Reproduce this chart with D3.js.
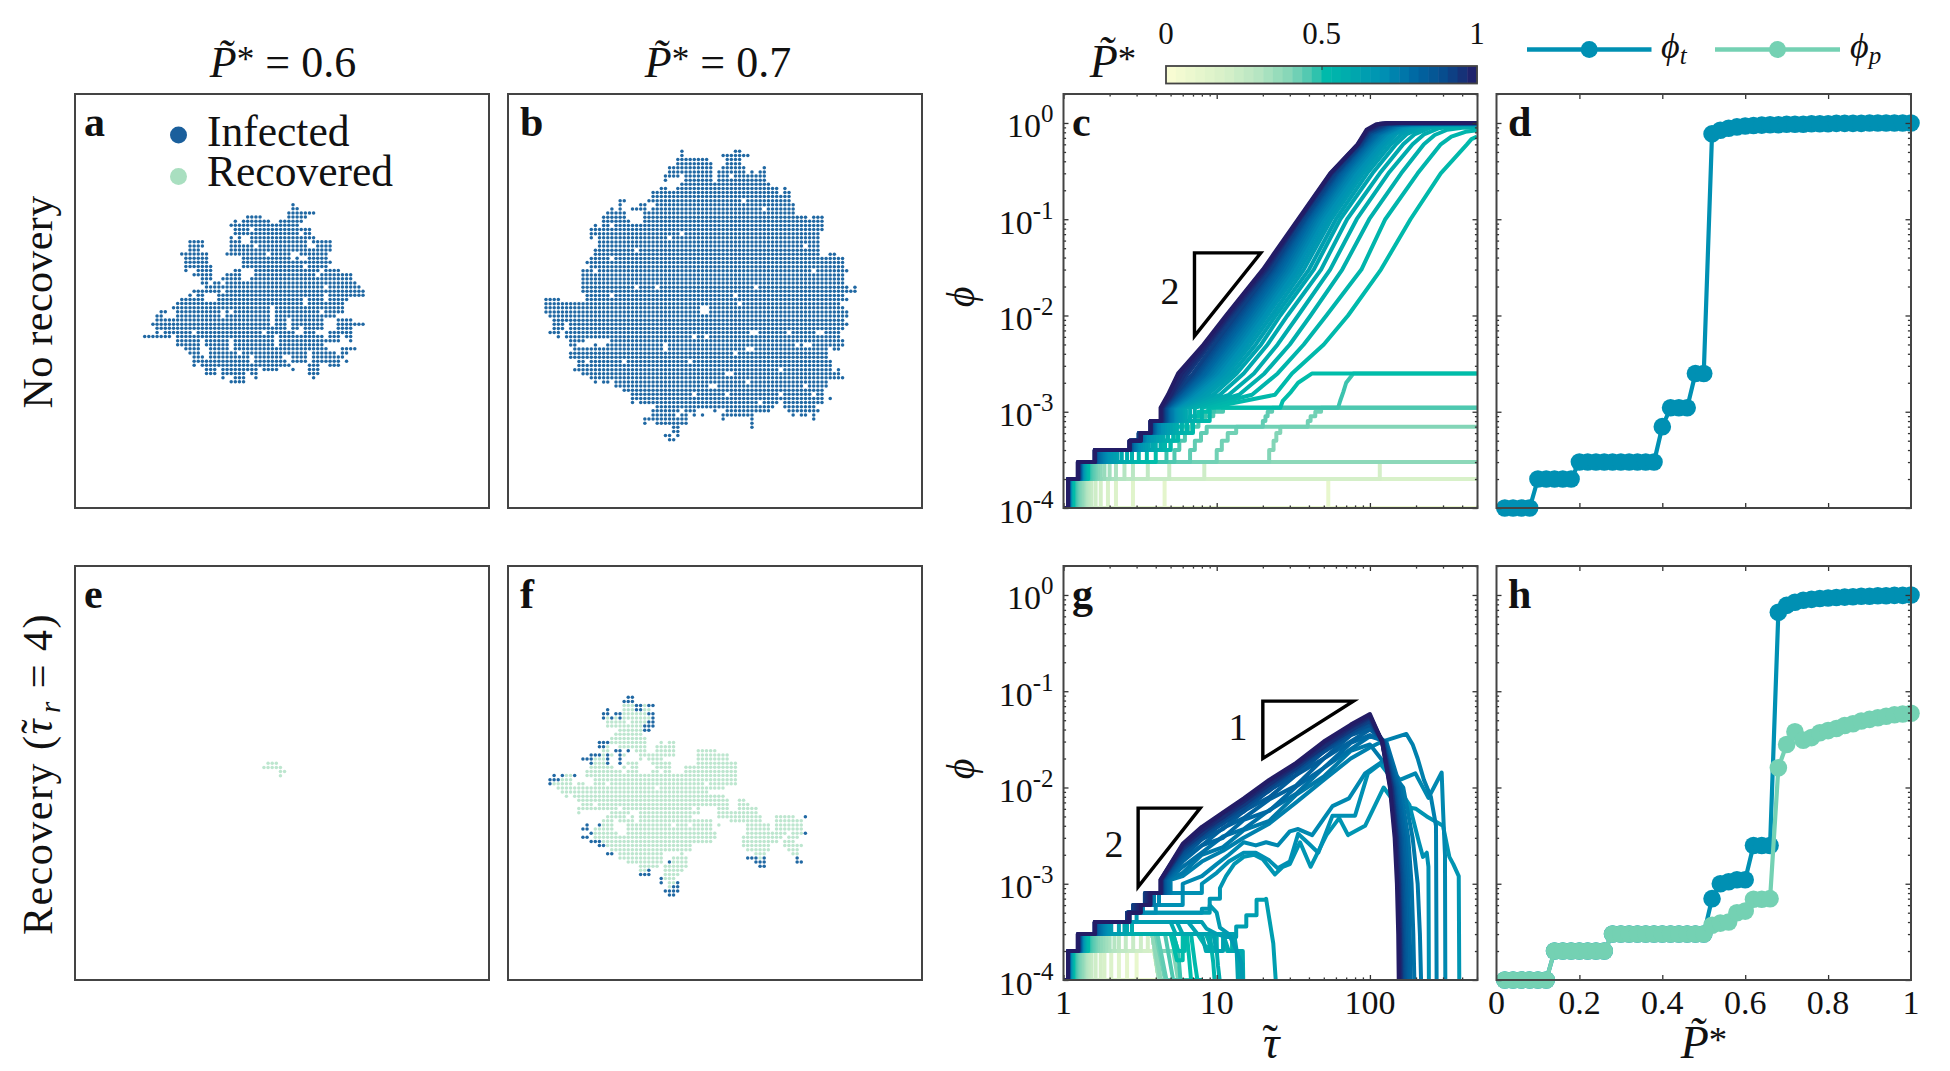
<!DOCTYPE html>
<html><head><meta charset="utf-8">
<script src="https://cdn.jsdelivr.net/npm/d3@7"></script>
<style>html,body{margin:0;padding:0;background:#fff}svg{display:block}
text{font-family:"Liberation Serif",serif;fill:#111}</style></head>
<body><svg id="c" width="1950" height="1071"></svg>
<script>
// ---------- colormap ----------
const cmapStops=[0,.1,.2,.3,.4,.48,.5,.6,.7,.8,.9,1];
const cmapColors=["#fbfdd4","#e8f7cd","#d4efc8","#b5e5c2","#83d5b7","#3cc3ae","#00bdaa","#00a8ae","#0090b3","#0069a3","#084a8c","#231c66"];
// ---------- lattice clusters: per row, flat list of [start,end] column runs ----------
const aRows=[[36,36],[36,37],[35,41],[25,28,35,39],[22,22,24,30,33,38],[21,37],[22,25,27,37,38,40],[22,23,24,25,26,37,39,40],[21,21,23,23,26,37,38,41],[11,14,21,23,26,39,41,43,44,45],[11,12,13,14,21,26,28,39,42,45],[11,13,21,27,28,39,40,44,45,45],[9,15,20,29,31,35,38,44],[10,15,24,35,37,37,40,44],[10,15,24,45],[10,16,24,38,40,44],[10,10,13,16,22,23,27,39,40,42,44,47],[12,13,14,16,20,23,27,41,43,50],[14,16,19,23,26,50],[14,15,17,18,20,24,25,51],[15,19,20,43,45,50,51,52],[12,14,15,18,20,43,44,50,51,53],[11,11,13,14,18,43,45,50,51,53],[9,14,18,38,40,43,45,49],[8,17,18,38,40,48],[7,30,32,48],[4,5,8,18,20,20,22,30,32,42,44,48],[3,4,8,18,20,30,32,43,44,46],[3,5,6,30,32,34,36,43,47,50],[2,5,6,30,32,34,36,43,47,53],[3,5,6,34,36,37,39,43,47,50],[3,3,5,11,13,28,30,36,39,41,45,50],[0,6,8,14,15,27,28,31,33,38,39,43,45,47,49,50],[8,13,15,20,22,31,33,44,45,47,50,50],[8,13,15,20,22,31,33,43],[10,13,16,20,22,26,27,43,44,44,48,51],[11,13,16,22,24,26,27,39,41,46,48,49],[12,14,16,25,27,33,36,39,41,48],[12,14,15,25,27,34,36,39,41,47,49,49],[12,12,14,18,19,27,28,35,40,42,45,47],[15,17,19,27,29,32,36,36,40,42],[15,17,19,24,26,27,40,42],[19,19,22,23,24,24,27,27,41,41],[21,24]];
const bRows=[[33,33,46,47],[33,33,43,49],[32,35,36,39,44,47],[32,40,44,47],[30,30,31,40,43,48,53,53],[30,40,42,48,50,50,52,53],[29,30,31,32,34,40,42,44,46,53],[29,29,34,40,42,53],[33,54],[28,29,32,56,58,58],[26,32,33,56,58,59],[26,59],[18,19,25,59],[18,18,23,24,27,60],[16,16,18,18,21,24,26,60],[15,19,24,60],[14,19,24,63,65,67],[14,20,24,67],[12,12,14,15,17,67],[11,60,61,67],[11,66],[11,11,13,66],[13,66],[13,66],[12,66],[12,66,69,70],[11,72],[10,72],[11,72],[9,72,73,73],[9,72],[9,72],[9,72],[9,72,73,73,75,75],[9,73,74,75],[10,72],[0,3,10,73],[0,71],[0,72],[0,73],[1,1,2,72,73,73],[2,72],[2,4,6,72,73,73],[2,4,6,72],[1,3,5,5,6,71],[3,3,5,5,6,71],[6,9,16,72],[6,7,12,12,15,72],[7,68,70,71],[6,68],[6,68],[8,9,11,69],[8,69],[7,7,8,69,71,71],[9,71],[11,72],[12,12,14,15,17,67,68,68],[17,67,68,68],[19,67],[21,67],[21,25,26,67,69,69],[21,21,23,25,26,67],[27,55,58,65],[26,32,34,36,41,41,44,54,59,66],[26,31,33,33,34,34,36,36,38,38,43,50,60,60,62,63,65,65],[24,25,26,34,43,43,50,50,65,65],[24,24,27,34,50,50],[31,32,50,50],[31,32],[29,30,32,32],[30,31]];
const bHoles=[[48,12],[53,14],[30,21],[33,20],[22,24],[63,23],[16,26],[12,29],[65,29],[22,33],[27,33],[51,33],[46,35],[16,35],[47,37],[38,38],[39,38],[38,39],[39,39],[5,43],[50,44],[51,44],[59,44],[66,44],[67,44],[36,45],[39,45],[29,47],[29,48],[61,47],[63,47],[64,47],[49,48],[50,48],[46,49],[10,51],[19,51],[35,51],[57,53],[44,54],[45,54],[49,56],[40,57],[41,57],[63,57],[57,59],[36,59],[44,59],[65,59],[52,61],[57,61]];
const eRows=[[1,3],[0,4],[4,5],[4,4]];
const fRecovered=[[],[],[18,20,23,23],[18,20,23,24],[18,23],[14,14,16,16,18,24],[14,18,20,23],[14,22],[17,22],[16,22],[15,23],[15,23,27,27,29,30],[14,14,17,23,26,30],[13,14,21,23,26,30,36,40],[13,13,15,15,18,18,22,23,24,30,36,43],[11,13,22,22,24,27,36,43],[11,13,19,21,25,29,36,45],[10,15,18,18,20,21,26,29,33,45],[9,16,17,17,19,21,25,26,28,29,33,45],[4,5,9,45],[3,5,11,38,39,45],[1,5,7,8,11,13,15,37,39,45],[2,5,6,25,27,38,39,42],[3,5,6,38],[4,4,6,42],[7,43,46,47],[8,10,12,43,46,48],[7,16,18,34,36,36,41,43,46,50],[7,7,15,19,22,36,41,50],[14,18,20,20,22,34,41,51,55,59],[13,15,17,20,22,34,35,39,44,51,55,61],[13,15,19,29,31,33,35,39,41,41,48,53,55,61],[11,15,19,34,35,39,48,53,55,61],[11,16,19,34,35,40,48,57,59,61],[11,34,35,40,47,56,58,60],[13,34,35,39,47,55,57,59],[14,34,47,53,57,59,60,61],[15,34,48,53,58,60],[17,27,32,32,50,52,59,60],[17,27,30,33,51,51],[19,27,30,33],[22,26,28,33],[22,23,28,32],[28,31],[28,30],[29,30],[29,29],[],[]];
const fInfected=[[19,20],[18,20],[21,22,24,25],[14,14,21,22],[13,14,16,17,24,25],[13,13,15,15,17,17,25,25],[24,25],[23,25],[23,24],[],[],[12,14],[12,13],[16,17,19,19],[10,12,14,14,17,17],[8,10,14,14,17,17],[10,10,14,14,17,17],[],[],[1,1,3,3,6,6],[0,2],[0,0],[],[],[],[],[],[],[],[62,62],[],[9,9,12,12],[8,9],[10,10,62,62],[8,9],[10,12],[12,13],[],[14,15],[48,49,50,50,52,52,60,60],[29,29,50,52,60,61],[51,52],[24,24],[22,24],[27,27],[27,27,31,31],[30,31],[28,31],[29,30]];
const aOrigin=[16.92,26.87], bOrigin=[9.22,13.91], eOrigin=[45.87,47.89], fOrigin=[10.19,31.87];
// ---------- panel c ----------
const pValues=d3.range(1,51).map(i=>+(i*0.02).toFixed(2));
const cLow=[
[.02,[[1,1e-4],[500,1e-4]]],[.04,[[1,1e-4],[500,1e-4]]],[.06,[[1,1e-4],[500,1e-4]]],[.08,[[1,1e-4],[500,1e-4]]],
[.10,[[1,1e-4],[53.5,2e-4],[500,2e-4]]],[.12,[[1,1e-4],[4.57,2e-4],[500,2e-4]]],[.14,[[1,1e-4],[2.84,2e-4],[500,2e-4]]],[.16,[[1,1e-4],[2.2,2e-4],[500,2e-4]]],[.18,[[1,1e-4],[1.95,2e-4],[500,2e-4]]],
[.20,[[1,1e-4],[1.75,2e-4],[116,3e-4],[500,3e-4]]],[.22,[[1,1e-4],[1.62,2e-4],[8.3,3e-4],[500,3e-4]]],[.24,[[1,1e-4],[1.52,2e-4],[4.9,3e-4],[500,3e-4]]],[.26,[[1,1e-4],[1.47,2e-4],[3.55,3e-4],[500,3e-4]]],[.28,[[1,1e-4],[1.43,2e-4],[2.84,3e-4],[500,3e-4]]],[.30,[[1,1e-4],[1.4,2e-4],[2.5,3e-4],[500,3e-4]]],[.32,[[1,1e-4],[1.37,2e-4],[2.2,3e-4],[500,3e-4]]],[.34,[[1,1e-4],[1.35,2e-4],[2,3e-4],[500,3e-4]]],[.36,[[1,1e-4],[1.33,2e-4],[1.85,3e-4],[500,3e-4]]],[.38,[[1,1e-4],[1.31,2e-4],[1.75,3e-4],[500,3e-4]]],
[.40,[[1,1e-4],[1.28,2e-4],[1.68,3e-4],[22,4e-4],[23.5,5e-4],[24.5,6e-4],[26,7e-4],[500,7e-4]]],
[.42,[[1,1e-4],[1.25,2e-4],[1.62,3e-4],[10,4e-4],[10.8,5e-4],[11.8,6e-4],[13.4,7e-4],[39.3,8e-4],[41,9e-4],[44,1e-3],[48,1.1e-3],[500,1.1e-3]]],
[.44,[[1,1e-4],[1.22,2e-4],[1.57,3e-4],[6.7,4e-4],[7.2,5e-4],[7.9,6e-4],[8.6,7e-4],[20,8e-4],[20.8,9e-4],[21.5,1e-3],[23,1.1e-3],[500,1.1e-3]]],
[.46,[[1,1e-4],[1.2,2e-4],[1.52,3e-4],[5.3,4e-4],[5.7,5e-4],[6.2,6e-4],[6.7,7e-4],[7.6,8e-4],[8.4,9e-4],[9.5,1e-3],[11,1.1e-3],[500,1.1e-3]]],
[.48,[[1,1e-4],[1.18,2e-4],[1.48,3e-4],[4.7,4e-4],[5,5e-4],[5.5,6e-4],[6,7e-4],[6.9,8e-4],[7.6,9e-4],[8.4,1e-3],[9.6,1.1e-3],[62,1.1e-3],[64,1.3e-3],[67,1.6e-3],[70,2e-3],[78,2.5e-3],[500,2.5e-3]]],
[.50,[[1,1e-4],[1.16,2e-4],[1.45,3e-4],[4,4e-4],[4.4,5e-4],[4.8,6e-4],[5.2,7e-4],[6,8e-4],[6.7,9e-4],[7.6,1e-3],[8.8,1.1e-3],[26,1.1e-3],[27,1.3e-3],[30.5,1.6e-3],[34,2e-3],[42,2.5e-3],[500,2.5e-3]]]];
const cLevels=[2e-4,3e-4,4e-4,5e-4,6e-4,8e-4,1.1e-3,1.5e-3,2.5e-3,5e-3,1e-2,3e-2,.1,.3,.6];
const cUpper=[
[.52,[1.13,1.42,3.5,5,5.6,7,9,24,31,50,72,118,184,290,430],[[460,.68],[500,.72]]],
[.54,[1.12,1.40,3.1,4.6,5.2,6.4,8,17,25,37,52,88,126,205,290],[[340,.72],[420,.81],[500,.84]]],
[.56,[1.12,1.38,2.8,4.3,4.8,5.9,7.2,14,20.5,30,41,66,99,160,225],[[265,.75],[320,.85],[400,.89],[500,.9]]],
[.58,[1.11,1.37,2.6,4,4.5,5.5,6.7,12,17.5,25,34,55,82,132,190],[[225,.76],[280,.88],[350,.92],[500,.93]]],
[.60,[1.11,1.36,2.4,3.8,4.3,5.2,6.3,10.5,15,21.5,29,48,71,116,165],[[195,.76],[250,.9],[320,.94],[500,.95]]],
[.62,[1.1,1.35,2.25,3.6,4.1,5,6,9.5,13.5,19.5,26,43,64,104,148],[[175,.77],[225,.91],[290,.95],[500,.96]]],
[.64,[1.1,1.34,2.15,3.45,3.9,4.8,5.8,8.7,12.6,18,24.3,40,60,96,137],[[162,.77],[205,.92],[270,.95],[500,.96]]],
[.66,[1.1,1.33,2.05,3.3,3.75,4.6,5.6,8.1,11.8,16.7,22.8,37,56,90,128],[[150,.78],[190,.92],[250,.96],[500,.97]]],
[.68,[1.09,1.32,1.97,3.2,3.6,4.45,5.45,7.6,11.1,15.7,21.3,34.8,53,85,121],[[142,.78],[180,.93],[240,.96],[500,.97]]],
[.70,[1.09,1.31,1.9,3.1,3.5,4.3,5.3,7.2,10.5,14.8,20.2,32.8,50,81,115],[[135,.78],[170,.93],[230,.97],[500,.98]]],
[.72,[1.09,1.31,1.85,3,3.4,4.2,5.2,6.9,10,14,19.2,31,47.5,77,110],[[129,.78],[165,.94],[220,.97],[500,.98]]],
[.74,[1.09,1.3,1.8,2.95,3.35,4.1,5.1,6.6,9.5,13.4,18.3,29.7,45.5,74,106],[[124,.78],[160,.94],[210,.97],[500,.98]]],
[.76,[1.08,1.3,1.76,2.9,3.3,4,5,6.4,9.1,12.8,17.5,28.5,44,71,102],[[119,.78],[155,.95],[200,.98],[500,.99]]],
[.78,[1.08,1.29,1.72,2.85,3.25,3.95,4.9,6.2,8.7,12.2,16.8,27.4,42.5,69,99],[[115,.78],[150,.95],[195,.98],[500,.99]]],
[.80,[1.08,1.28,1.69,2.8,3.2,3.9,4.8,6,8.4,11.7,16.1,26.3,41,67,96],[[112,.78],[145,.95],[190,.98],[500,.99]]],
[.82,[1.08,1.28,1.66,2.78,3.15,3.85,4.75,5.85,8.1,11.3,15.5,25.4,40,65,94],[[109,.79],[142,.96],[185,.98],[500,.99]]],
[.84,[1.08,1.27,1.64,2.76,3.15,3.8,4.7,5.7,7.8,10.9,15,24.6,39,63.5,92],[[106,.79],[140,.96],[180,.99],[500,.99]]],
[.86,[1.08,1.27,1.63,2.74,3.1,3.8,4.65,5.6,7.6,10.5,14.5,23.9,38.2,62,90],[[104,.79],[136,.96],[175,.99],[500,1]]],
[.88,[1.07,1.26,1.62,2.72,3.1,3.75,4.6,5.5,7.4,10.2,14.1,23.3,37.6,61,89],[[102,.79],[133,.97],[170,.99],[500,1]]],
[.90,[1.07,1.26,1.61,2.71,3.1,3.75,4.55,5.4,7.2,9.9,13.7,22.8,37,60,88],[[100,.8],[130,.97],[165,.99],[500,1]]],
[.92,[1.07,1.25,1.6,2.7,3.1,3.7,4.5,5.3,7,9.6,13.3,22.4,36,59,87],[[99,.8],[128,.97],[160,1],[500,1]]],
[.94,[1.07,1.25,1.6,2.7,3.15,3.7,4.45,5.2,6.5,9,12.5,21.5,35,57,85],[[98,.82],[125,.98],[155,1],[500,1]]],
[.96,[1.07,1.25,1.6,2.7,3.15,3.7,4.4,5.1,6.2,8.7,12.1,21,34.8,56,84],[[97,.83],[120,.98],[150,1],[500,1]]],
[.98,[1.07,1.24,1.6,2.7,3.2,3.7,4.35,5,5.9,8.5,11.8,20.5,34.5,55.5,83.5],[[96,.84],[116,.98],[145,1],[500,1]]],
[1,[1.07,1.24,1.6,2.7,3.2,3.7,4.3,4.8,5.6,8.2,11.5,20,34,55,83],[[95,.85],[110,.97],[130,1],[500,1]]]];
// ---------- panel g ----------
const gLow=[
[.02,[[1,1e-4],[5,1e-4]]],[.04,[[1,1e-4],[5.2,1e-4]]],[.06,[[1,1e-4],[5.6,1e-4]]],[.08,[[1,1e-4],[6,1e-4]]],
[.10,[[1,1e-4],[3,2e-4],[3.9,2e-4],[4.2,1e-4],[7,1e-4]]],[.12,[[1,1e-4],[2.6,2e-4],[3.9,2e-4],[4.2,1e-4],[7.5,1e-4]]],[.14,[[1,1e-4],[2.3,2e-4],[3.9,2e-4],[4.2,1e-4],[7,1e-4]]],[.16,[[1,1e-4],[2.05,2e-4],[4,2e-4],[4.2,1e-4],[7,1e-4]]],[.18,[[1,1e-4],[1.85,2e-4],[4,2e-4],[4.2,1e-4],[7,1e-4]]],
[.20,[[1,1e-4],[1.75,2e-4],[3.55,3e-4],[3.8,3e-4],[4.2,1e-4],[7,1e-4]]],[.22,[[1,1e-4],[1.62,2e-4],[3.2,3e-4],[3.8,3e-4],[4.2,1e-4],[7,1e-4]]],[.24,[[1,1e-4],[1.52,2e-4],[2.85,3e-4],[3.8,3e-4],[4.2,1e-4],[7,1e-4]]],[.26,[[1,1e-4],[1.47,2e-4],[2.55,3e-4],[3.8,3e-4],[4.2,1e-4],[7,1e-4]]],[.28,[[1,1e-4],[1.43,2e-4],[2.3,3e-4],[3.8,3e-4],[4.2,1e-4],[7,1e-4]]],[.30,[[1,1e-4],[1.4,2e-4],[2.15,3e-4],[3.8,3e-4],[4.2,1e-4],[7,1e-4]]],[.32,[[1,1e-4],[1.37,2e-4],[2,3e-4],[3.8,3e-4],[4.2,1e-4],[7,1e-4]]],[.34,[[1,1e-4],[1.35,2e-4],[1.9,3e-4],[3.8,3e-4],[4.2,1e-4],[7,1e-4]]],[.36,[[1,1e-4],[1.33,2e-4],[1.82,3e-4],[3.9,3e-4],[4.3,1e-4],[7,1e-4]]],[.38,[[1,1e-4],[1.31,2e-4],[1.75,3e-4],[3.8,3e-4],[4.3,1e-4],[7,1e-4]]],
[.40,[[1,1e-4],[1.28,2e-4],[1.68,3e-4],[4,3e-4],[4.2,2e-4],[5.2,2e-4],[5.6,1e-4],[7,1e-4]]],[.42,[[1,1e-4],[1.25,2e-4],[1.62,3e-4],[4,3e-4],[4.6,1e-4],[6.5,1e-4]]],[.44,[[1,1e-4],[1.22,2e-4],[1.57,3e-4],[4.1,3e-4],[4.7,1e-4],[6.5,1e-4]]],[.46,[[1,1e-4],[1.2,2e-4],[1.52,3e-4],[4.6,3e-4],[5.2,1e-4],[7,1e-4]]],[.48,[[1,1e-4],[1.18,2e-4],[1.48,3e-4],[5.2,3e-4],[5.6,2e-4],[5.8,1e-4],[8,1e-4]]],[.50,[[1,1e-4],[1.16,2e-4],[1.45,3e-4],[5,3e-4],[5.5,1.6e-4],[6,3e-4],[6.4,3e-4],[6.8,1e-4],[8,1e-4]]],
[.52,[[1,1e-4],[1.14,2e-4],[1.43,3e-4],[5.2,3e-4],[5.6,2e-4],[6.2,3e-4],[6.8,3e-4],[7.2,1.5e-4],[8,5e-5]]],
[.54,[[1,1e-4],[1.13,2e-4],[1.4,3e-4],[7.5,3e-4],[8.5,2.2e-4],[9,3e-4],[9.5,1.5e-4],[10,5e-5]]],
[.56,[[1,1e-4],[1.13,2e-4],[1.38,3e-4],[8.5,3e-4],[9.4,2e-4],[10,3e-4],[11,3e-4],[11.7,2e-4],[12.6,3e-4],[13,2e-4],[14.2,2e-4],[14.4,5e-5]]],
[.58,[[1,1e-4],[1.12,2e-4],[1.37,3e-4],[2.8,4e-4],[5,4e-4],[5.4,3e-4],[8.8,3e-4],[9.4,2e-4],[9.8,3e-4],[10.2,1.4e-4],[11,5e-5]]],
[.60,[[1,1e-4],[1.12,2e-4],[1.36,3e-4],[2.6,4e-4],[5.5,4e-4],[6,3e-4],[8,3e-4],[8.5,2e-4],[9,3e-4],[11,3e-4],[12,2e-4],[14.8,2e-4],[15,5e-5]]],
[.62,[[1,1e-4],[1.11,2e-4],[1.35,3e-4],[2.5,4e-4],[6.5,4e-4],[7.5,3e-4],[9.5,3e-4],[10,2e-4],[11,3e-4],[13,3e-4],[13.5,2e-4],[14,5e-5]]],
[.64,[[1,1e-4],[1.11,2e-4],[1.34,3e-4],[2.3,4e-4],[8,4e-4],[8.6,3.4e-4],[10,3e-4],[11.5,2.8e-4],[13.4,3.6e-4],[15.6,4.7e-4],[18.2,6.8e-4],[21,7e-4],[23.4,2.4e-4],[25,5e-5]]],
[.66,[[1,1e-4],[1.1,2e-4],[1.33,3e-4],[2.05,4e-4],[3,5e-4],[8,5e-4],[9,6e-4],[10,5e-4],[10.5,3.5e-4],[12,3e-4],[13.5,2e-4],[14.5,1.5e-4],[15,5e-5]]],
[.68,[[1,1e-4],[1.1,2e-4],[1.32,3e-4],[1.97,4e-4],[2.7,5e-4],[6,5e-4],[8,5.5e-4],[9,7e-4],[10.5,9e-4],[11.5,1.2e-3],[13,1.6e-3],[15,1.9e-3],[17.5,2e-3],[20,1.8e-3],[24,1.25e-3],[27,1.5e-3],[30,1.6e-3],[35,2.7e-3],[41,1.5e-3],[52,3.2e-3],[63,4.8e-3],[72,3.2e-3],[93,4e-3],[123,1e-2],[150,6.5e-3],[200,6e-3],[235,5e-3],[300,4e-3],[330,1.9e-3],[350,1.6e-3],[380,1.2e-3],[384,5e-5]]],
[.70,[[1,1e-4],[1.09,2e-4],[1.31,3e-4],[1.9,4e-4],[2.66,5e-4],[4,6e-4],[6,8e-4],[8,1e-3],[10,1.3e-3],[12,1.7e-3],[15,2.1e-3],[18,2.1e-3],[22,1.75e-3],[25,1.45e-3],[30,1.7e-3],[34,3.3e-3],[40,2.6e-3],[46,2.1e-3],[57,5.1e-3],[80,5.1e-3],[97,1.4e-2],[117,1.76e-2],[143,1.17e-2],[181,6.6e-3],[209,2.7e-3],[222,1.9e-3],[235,2.1e-3],[241,1.5e-3],[243,5e-5]]],
[.72,[[1,1e-4],[1.09,2e-4],[1.31,3e-4],[1.85,4e-4],[2.64,5e-4],[3.3,6e-4],[4.2,8e-4],[6,1e-3],[8,1.2e-3],[10,1.6e-3],[12,2e-3],[15,2.7e-3],[18,2.5e-3],[21,2.7e-3],[25,2.5e-3],[30,3.5e-3],[34,3.7e-3],[42,3.2e-3],[57,6.4e-3],[73,7.7e-3],[93,1.4e-2],[123,1.9e-2],[157,1.2e-2],[198,1.4e-2],[241,7.8e-3],[294,1.43e-2],[300,6e-3],[309,2e-3],[311,5e-5]]],
[.74,[[1,1e-4],[1.09,2e-4],[1.3,3e-4],[1.8,4e-4],[2.63,5e-4],[3.1,6e-4],[3.9,8e-4],[5,1.1e-3],[6,1.2e-3],[8,1.7e-3],[11,2.2e-3],[15,3e-3],[22,4.2e-3],[33,7e-3],[50,1.2e-2],[75,2e-2],[100,2.6e-2],[120,3e-2],[145,3.3e-2],[173,3.6e-2],[190,2.8e-2],[205,2e-2],[225,1.2e-2],[250,8e-3],[270,4e-3],[273,5e-5]]]];
const gStairLevels=[2e-4,3e-4,4e-4,5e-4,6e-4,8e-4,1.1e-3];
const gMidTaus=[6,8,11,15,22,33,50,75,100];
const gFallPhi=[3e-2,1e-2,3e-3,1e-3,3e-4,5e-5];
const gUpper=[
[.76,[1.08,1.3,1.76,2.62,3,3.8,4.9],[1.3,2,2.4,3.6,4.5,8.4,13,24,28],[130,165,190,205,212,218]],
[.78,[1.08,1.29,1.72,2.61,3,3.7,4.8],[1.5,2.1,3.1,3.7,5.8,8.6,16,25,34],[128,158,178,187,192,197]],
[.80,[1.08,1.28,1.69,2.6,2.95,3.6,4.7],[1.7,2.5,3,4.6,5.7,10.2,16,29,35],[126,153,170,178,182,186]],
[.82,[1.08,1.28,1.66,2.6,2.95,3.6,4.6],[1.8,2.5,3.8,4.8,7.5,10.5,20,30,40],[125,150,165,172,176,179]],
[.84,[1.08,1.27,1.64,2.6,2.9,3.5,4.55],[1.9,2.9,3.7,5.7,7.9,13.5,20,35,41],[124,147,161,167,171,174]],
[.86,[1.08,1.27,1.63,2.6,2.9,3.5,4.5],[2,2.9,4.3,5.6,9.4,13.5,23.5,35,45],[123,145,158,164,167,170]],
[.88,[1.07,1.26,1.62,2.6,2.85,3.45,4.45],[2.1,3.2,4.2,6.3,9.2,15.4,23.5,38,45],[122,143,156,161,164,167]],
[.90,[1.07,1.26,1.61,2.6,2.85,3.4,4.4],[2.2,3.1,4.7,6.1,10.3,15,25.5,37,49],[122,142,154,159,162,164]],
[.92,[1.07,1.25,1.6,2.6,2.85,3.4,4.4],[2.3,3.4,4.6,6.7,10,16.4,25.5,40,49],[121,140,152,157,160,162]],
[.94,[1.07,1.25,1.6,2.6,2.9,3.45,4.35],[2.3,3.3,5,6.6,10.8,16,27,39,53],[121,139,150,155,158,160]],
[.96,[1.07,1.25,1.6,2.65,3,3.5,4.35],[2.4,3.6,4.9,7.2,10.8,17.2,26.5,42,54],[120,138,149,154,157,159]],
[.98,[1.07,1.24,1.6,2.65,3.1,3.6,4.3],[2.5,3.6,5.4,7.2,11.7,17.2,29,43,56],[120,136,147,152,155,157]],
[1,[1.07,1.24,1.6,2.7,3.2,3.7,4.3],[2.6,3.9,5.5,7.7,12,18,30,45,58],[120,135,145,150,153,155]]];
// ---------- panels d, h ----------
const dPhiT=[1e-4,1e-4,1e-4,1e-4,2e-4,2e-4,2e-4,2e-4,2e-4,3e-4,3e-4,3e-4,3e-4,3e-4,3e-4,3e-4,3e-4,3e-4,3e-4,7e-4,1.1e-3,1.1e-3,1.1e-3,2.5e-3,2.5e-3,.77,.84,.88,.91,.93,.94,.95,.96,.96,.97,.97,.97,.98,.98,.98,.99,.99,.99,.99,1,1,1,1,1,1];
const hPhiT=[1e-4,1e-4,1e-4,1e-4,1e-4,1e-4,2e-4,2e-4,2e-4,2e-4,2e-4,2e-4,2e-4,3e-4,3e-4,3e-4,3e-4,3e-4,3e-4,3e-4,3e-4,3e-4,3e-4,3e-4,3e-4,7e-4,1e-3,1.05e-3,1.1e-3,1.1e-3,2.5e-3,2.5e-3,2.5e-3,.66,.78,.84,.88,.9,.92,.93,.94,.95,.96,.97,.97,.98,.98,.99,.99,1];
const hPhiP=[1e-4,1e-4,1e-4,1e-4,1e-4,1e-4,2e-4,2e-4,2e-4,2e-4,2e-4,2e-4,2e-4,3e-4,3e-4,3e-4,3e-4,3e-4,3e-4,3e-4,3e-4,3e-4,3e-4,3e-4,3e-4,3.7e-4,3.9e-4,4e-4,5e-4,5.2e-4,6.9e-4,6.9e-4,7e-4,1.6e-2,2.8e-2,3.8e-2,3.1e-2,3.3e-2,3.7e-2,3.9e-2,4.1e-2,4.4e-2,4.6e-2,4.9e-2,5.1e-2,5.3e-2,5.5e-2,5.7e-2,5.8e-2,5.9e-2];
// ---------- ticks and annotations ----------
const logYMajor=[1e-4,1e-3,1e-2,1e-1,1];
const logYExp=["-4","-3","-2","-1","0"];
const logYMinor=[2,3,4,5,6,7,8,9,20,30,40,50,60,70,80,90,200,300,400,500,600,700,800,900,2000,3000,4000,5000,6000,7000,8000,9000,20000].map(v=>v*1e-4);
const tauMajor=[1,10,100];
const tauMinor=[2,3,4,5,6,7,8,9,20,30,40,50,60,70,80,90,200,300,400,500];
const pMajor=[.2,.4,.6,.8];
const pLabels=[0,.2,.4,.6,.8,1];
const triC2=[[7.16,.0447],[19.4,.0447],[7.16,6.1e-3]];
const triG2=[[3.07,6.1e-3],[7.8,6.1e-3],[3.07,9.3e-4]];
const triG1=[[20,.079],[78,.079],[20,.02]];

// ---------- layout ----------
const svg=d3.select("#c");
const colL=[75,508], colR=[1063.5,1496.5], rowT=[94,566], pw=414, phgt=414;
const cmap=d3.scaleLinear().domain(cmapStops).range(cmapColors).clamp(true);

function frame(g,w,h){g.append("rect").attr("width",w).attr("height",h).attr("fill","none").attr("stroke","#444").attr("stroke-width",2);}
function lattice(x0,y0){return {x:d3.scaleLinear().domain([0,100.5]).range([x0,x0+pw]),y:d3.scaleLinear().domain([0,100.5]).range([y0,y0+phgt])};}
function expandRows(rows,o,holes){const hs=new Set((holes||[]).map(h=>h[0]+","+h[1]));const out=[];
 rows.forEach((r,ri)=>{for(let k=0;k<r.length;k+=2)for(let c=r[k];c<=r[k+1];c++){if(!hs.has(c+","+ri))out.push([o[0]+c,o[1]+ri]);}});return out;}
function sites(x0,y0,pts,col,r){const s=lattice(x0,y0);
 svg.append("g").selectAll("circle").data(pts).join("circle").attr("cx",d=>s.x(d[0])).attr("cy",d=>s.y(d[1])).attr("r",r).attr("fill",col);}
const blue="#2068a3",green="#bde6cf";
sites(colL[0],rowT[0],expandRows(aRows,aOrigin),blue,1.75);
sites(colL[1],rowT[0],expandRows(bRows,bOrigin,bHoles),blue,1.75);
sites(colL[0],rowT[1],expandRows(eRows,eOrigin),green,1.75);
sites(colL[1],rowT[1],expandRows(fRecovered,fOrigin),green,1.75);
sites(colL[1],rowT[1],expandRows(fInfected,fOrigin),blue,1.75);
colL.forEach(x=>rowT.forEach(y=>frame(svg.append("g").attr("transform",`translate(${x},${y})`),pw,phgt)));

// axes helper
function inwardAxes(g,x,y,xMaj,xMin,yMaj,yMin){
 const w=pw,h=phgt;
 const add=(ax,tr)=>{const a=g.append("g").attr("transform",tr).call(ax);a.select(".domain").remove();a.selectAll("line").attr("stroke","#333").attr("stroke-width",1.3);a.selectAll("text").remove();};
 [[xMaj,5],[xMin,2.6]].forEach(([v,l])=>{ if(!v.length)return;
  add(d3.axisBottom(x).tickValues(v).tickSize(-l),`translate(0,${h})`);
  add(d3.axisTop(x).tickValues(v).tickSize(-l),"translate(0,0)");});
 [[yMaj,5],[yMin,2.6]].forEach(([v,l])=>{
  add(d3.axisLeft(y).tickValues(v).tickSize(-l),"translate(0,0)");
  add(d3.axisRight(y).tickValues(v).tickSize(-l),`translate(${w},0)`);});
}
const yLog=d3.scaleLog().domain([1e-4,2]).range([phgt,0]);
const xTau=d3.scaleLog().domain([1,500]).range([0,pw-.5]);
const xP=d3.scaleLinear().domain([0,1]).range([0,pw+.5]);

svg.append("defs").append("clipPath").attr("id","clipPlot").append("rect").attr("width",pw).attr("height",phgt);
const lineGen=d3.line().x(d=>xTau(d[0])).y(d=>yLog(d[1]));
function steps(pts){const out=[pts[0]];for(let i=1;i<pts.length;i++){const a=pts[i-1],b=pts[i];if(b[1]>a[1]&&b[1]<=1.1e-3)out.push([b[0],a[1]]);out.push(b);}return out;}
function curves(g,list){g.append("g").attr("clip-path","url(#clipPlot)").selectAll("path").data(list).join("path")
 .attr("d",d=>lineGen(steps(d[1]))).attr("fill","none").attr("stroke",d=>cmap(d[0])).attr("stroke-width",4).attr("stroke-linejoin","round");}
function tri(g,v){g.append("path").attr("d",d3.line().x(d=>xTau(d[0])).y(d=>yLog(d[1])).curve(d3.curveLinearClosed)(v)).attr("fill","none").attr("stroke","#000").attr("stroke-width",3.4).attr("stroke-linejoin","miter");}
function yLabels(g){logYMajor.forEach((v,i)=>{const y=yLog(v);
  const t=g.append("text").attr("x",-10).attr("y",y+14.5).attr("text-anchor","end").attr("font-size",34);
  t.append("tspan").text("10");t.append("tspan").attr("dy",-15).attr("font-size",25).text(logYExp[i]);});}
function phiLabel(g){g.append("text").attr("transform",`translate(${-90},${phgt/2-4}) rotate(-90)`).attr("text-anchor","middle").attr("font-size",40).attr("font-style","italic").text("ϕ");}

// panel c
const gc=svg.append("g").attr("transform",`translate(${colR[0]},${rowT[0]})`);
const cUpperCurves=cUpper.map(([p,t,tail])=>[p,[[1,1e-4]].concat(t.map((v,i)=>[v,cLevels[i]])).concat(tail)]);
curves(gc,cLow.concat(cUpperCurves));
tri(gc,triC2);inwardAxes(gc,xTau,yLog,tauMajor,tauMinor,logYMajor,logYMinor);frame(gc,pw,phgt);yLabels(gc);phiLabel(gc);
// panel g
const gg=svg.append("g").attr("transform",`translate(${colR[0]},${rowT[1]})`);
const gUpperCurves=gUpper.map(([p,st,mid,fall])=>{
 const pts=[[1,1e-4]].concat(st.map((v,i)=>[v,gStairLevels[i]])).concat(mid.map((v,i)=>[gMidTaus[i],v*1e-3]));
 const last=pts[pts.length-1][1];fall.forEach((v,i)=>{if(gFallPhi[i]<last)pts.push([v,gFallPhi[i]]);});return [p,pts];});
curves(gg,gLow.concat(gUpperCurves));
tri(gg,triG2);tri(gg,triG1);inwardAxes(gg,xTau,yLog,tauMajor,tauMinor,logYMajor,logYMinor);frame(gg,pw,phgt);yLabels(gg);phiLabel(gg);
tauMajor.forEach(v=>gg.append("text").attr("x",xTau(v)).attr("y",phgt+34).attr("text-anchor","middle").attr("font-size",34).text(v));
// d and h
const colT="#0090b3",colP="#74d1b3";
function series(g,vals,col){const l=d3.line().x((d,i)=>xP(pValues[i])).y(d=>yLog(d));
 g.append("path").attr("d",l(vals)).attr("fill","none").attr("stroke",col).attr("stroke-width",4.2);
 g.append("g").selectAll("circle").data(vals).join("circle").attr("cx",(d,i)=>xP(pValues[i])).attr("cy",d=>yLog(d)).attr("r",8.8).attr("fill",col);}
const gd=svg.append("g").attr("transform",`translate(${colR[1]},${rowT[0]})`);
series(gd,dPhiT,colT);inwardAxes(gd,xP,yLog,pMajor,[],logYMajor,logYMinor);frame(gd,pw+.5,phgt);
const gh=svg.append("g").attr("transform",`translate(${colR[1]},${rowT[1]})`);
series(gh,hPhiT,colT);series(gh,hPhiP,colP);inwardAxes(gh,xP,yLog,pMajor,[],logYMajor,logYMinor);frame(gh,pw+.5,phgt);
pLabels.forEach(v=>gh.append("text").attr("x",xP(v)).attr("y",phgt+34).attr("text-anchor","middle").attr("font-size",34).text(v));

// math text helpers
function pstar(t,size){t.append("tspan").attr("font-style","italic").text("P\u0303");t.append("tspan").attr("dy",-size*.14).attr("font-size",size*.8).text("*");}
function tauTilde(t,size){t.append("tspan").attr("font-style","italic").text("τ");t.append("tspan").attr("dx",-size*.37).attr("dy",-size*.04).text("\u02DC");t.append("tspan").attr("dy",size*.04).attr("dx",0).text("\u200A");}
function title(x,y,s){const t=svg.append("text").attr("x",x).attr("y",y).attr("text-anchor","middle").attr("font-size",44);pstar(t,44);t.append("tspan").attr("dy",44*.14).text(" = "+s);}
title(283,77,"0.6");title(718,77,"0.7");
pstar(svg.append("text").attr("x",1704).attr("y",1058).attr("text-anchor","middle").attr("font-size",46),46);
tauTilde(svg.append("text").attr("x",1272).attr("y",1058).attr("text-anchor","middle").attr("font-size",46),46);
pstar(svg.append("text").attr("x",1113).attr("y",77).attr("text-anchor","middle").attr("font-size",46),46);
// panel letters
[["a",84,136],["b",520,136],["c",1072,136],["d",1508,136],["e",84,608],["f",520,608],["g",1072,608],["h",1508,608]].forEach(([s,x,y])=>svg.append("text").attr("x",x).attr("y",y).attr("font-size",42).attr("font-weight","bold").text(s));
// row labels
svg.append("text").attr("transform","translate(52,302) rotate(-90)").attr("text-anchor","middle").attr("font-size",42).attr("letter-spacing",.4).text("No recovery");
const rl=svg.append("text").attr("transform","translate(52,774) rotate(-90)").attr("text-anchor","middle").attr("font-size",42).attr("letter-spacing",1.5);
rl.append("tspan").text("Recovery (");tauTilde(rl,42);rl.append("tspan").attr("dy",8).attr("font-size",29).attr("font-style","italic").text("r");rl.append("tspan").attr("dy",-8).text(" = 4)");
// legend a
[["Infected",135,134,blue],["Recovered",176.5,174,green]].forEach(([s,y,ty,c])=>{svg.append("circle").attr("cx",178.5).attr("cy",y).attr("r",8.5).attr("fill",c==blue?"#1a5f9c":"#a9dfc0");
 svg.append("text").attr("x",207).attr("y",ty+12).attr("font-size",43.5).text(s);});
// triangle labels
[["2",1170,304],["2",1114,857],["1",1238,740]].forEach(([s,x,y])=>svg.append("text").attr("x",x).attr("y",y).attr("text-anchor","middle").attr("font-size",38).text(s));
// colourbar
const cbX=d3.scaleLinear().domain([0,1]).range([1166,1477]);
svg.append("g").selectAll("rect").data(d3.range(32)).join("rect").attr("x",i=>cbX(i/32)).attr("y",66).attr("width",i=>cbX((i+1)/32)-cbX(i/32)+.5).attr("height",17.5).attr("fill",i=>cmap((i+.5)/32));
svg.append("rect").attr("x",1166).attr("y",66).attr("width",311).attr("height",17.5).attr("fill","none").attr("stroke","#444").attr("stroke-width",1.8);
svg.append("g").call(g=>g.attr("transform","translate(0,66)").call(d3.axisTop(cbX).tickValues([.5]).tickSize(-4)).call(a=>{a.select(".domain").remove();a.selectAll("text").remove();a.selectAll("line").attr("stroke","#333");}));
[[0,"0"],[.5,"0.5"],[1,"1"]].forEach(([v,s])=>svg.append("text").attr("x",cbX(v)).attr("y",44).attr("text-anchor","middle").attr("font-size",31).text(s));
// legend top right
[[1527,1651.5,colT,"t",1661],[1715,1840,colP,"p",1850]].forEach(([a,b,c,sub,tx])=>{
 svg.append("line").attr("x1",a).attr("x2",b).attr("y1",49.5).attr("y2",49.5).attr("stroke",c).attr("stroke-width",4.5);
 svg.append("circle").attr("cx",(a+b)/2).attr("cy",49.5).attr("r",8.5).attr("fill",c);
 const t=svg.append("text").attr("x",tx).attr("y",58).attr("font-size",36).attr("font-style","italic");t.append("tspan").text("ϕ");t.append("tspan").attr("dy",6).attr("font-size",25).text(sub);});
</script></body></html>
